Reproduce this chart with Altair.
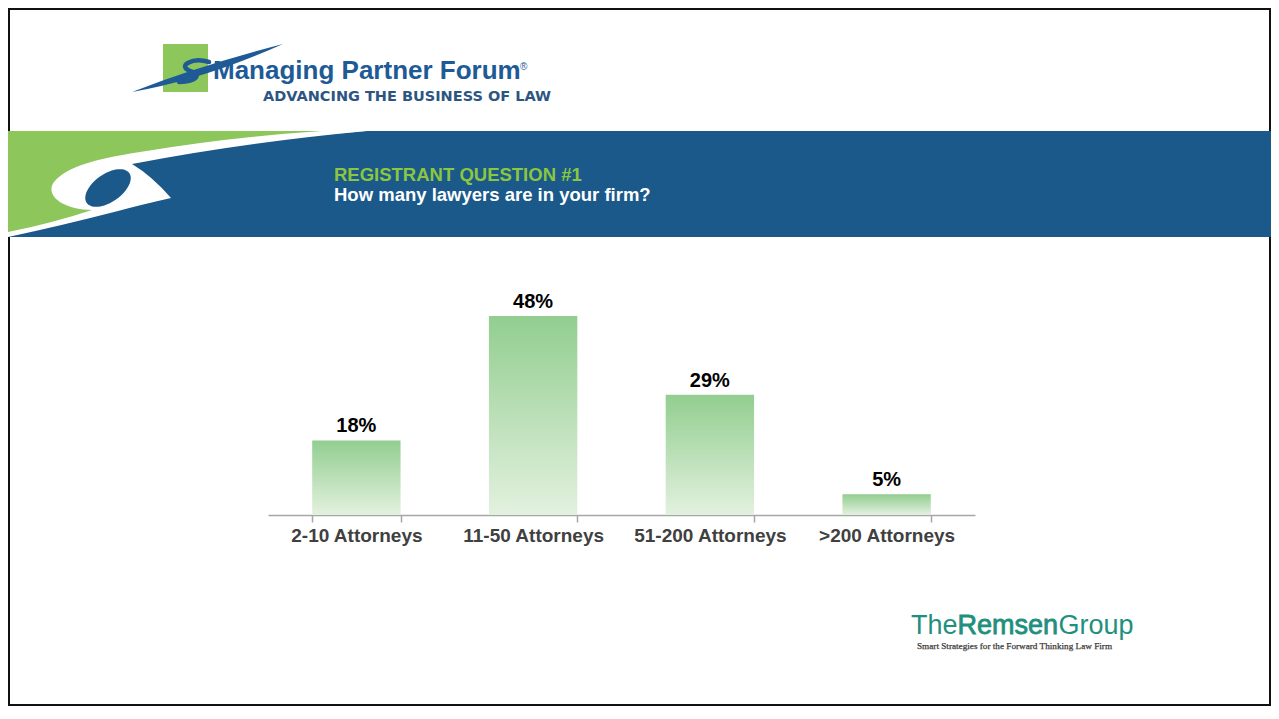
import re
import math
import altair as alt
import pandas as pd

# ---------------- data ----------------
categories = ["2-10 Attorneys", "11-50 Attorneys", "51-200 Attorneys", ">200 Attorneys"]
values = [18, 48, 29, 5]

header_kicker = "REGISTRANT QUESTION #1"
header_question = "How many lawyers are in your firm?"
logo_name = "Managing Partner Forum"
logo_reg = "®"
logo_tagline = "ADVANCING THE BUSINESS OF LAW"
remsen_parts = ["The", "Remsen", "Group"]
remsen_tagline = "Smart Strategies for the Forward Thinking Law Firm"

# ---------------- layout helpers ----------------
OFF = 8          # page margin: reference pixel -> chart pixel
W, H = 1263, 698
ONE = alt.Data(values=[{"k": 0}])

BLUE = "#1a598a"
GREEN = "#8dc65b"
LOGO_BLUE = "#1e5a96"
TEAL = "#1f8f7e"


def path_layer(path, color, filled=True, stroke_width=0):
    tokens = re.findall(r"[A-Za-z]|-?\d+(?:\.\d+)?", path)
    nums = [float(t) for t in tokens if not t.isalpha()]
    xs, ys = nums[0::2], nums[1::2]
    cx = (min(xs) + max(xs)) / 2
    cy = (min(ys) + max(ys)) / 2
    r = max(max(xs) - min(xs), max(ys) - min(ys)) / 2
    out, buf = [], []
    for t in tokens:
        if t.isalpha():
            out.append(t)
        else:
            buf.append(float(t))
            if len(buf) == 2:
                out.append(f"{(buf[0] - cx) / r:.4f},{(buf[1] - cy) / r:.4f}")
                buf = []
    shape = " ".join(out)
    if filled:
        mk = alt.Chart(ONE).mark_point(shape=shape, size=(2 * r) ** 2, filled=True,
                                       fill=color, strokeWidth=0, opacity=1)
    else:
        mk = alt.Chart(ONE).mark_point(shape=shape, size=(2 * r) ** 2, filled=False,
                                       color=color, strokeWidth=stroke_width,
                                       strokeCap="round", opacity=1)
    return mk.encode(x=alt.value(cx - OFF), y=alt.value(cy - OFF))


def ellipse_path(cx, cy, a, b, deg, n=48):
    th = math.radians(deg)
    pts = []
    for i in range(n):
        t = 2 * math.pi * i / n
        x = cx + a * math.cos(t) * math.cos(th) + b * math.sin(t) * math.sin(th)
        y = cy - a * math.cos(t) * math.sin(th) + b * math.sin(t) * math.cos(th)
        pts.append(f"{x:.2f} {y:.2f}")
    return "M " + " L ".join(pts) + " Z"


def text_layer(txt, x, y, size, color, weight="normal", font="Liberation Sans",
               align="left", **kw):
    return alt.Chart(ONE).mark_text(
        text=txt, align=align, baseline="alphabetic", fontSize=size,
        fontWeight=weight, font=font, color=color, **kw
    ).encode(x=alt.value(x - OFF), y=alt.value(y - OFF))


def rect_layer(x1, y1, x2, y2, color):
    return alt.Chart(ONE).mark_rect(color=color).encode(
        x=alt.value(x1 - OFF), x2=alt.value(x2 - OFF),
        y=alt.value(y1 - OFF), y2=alt.value(y2 - OFF))


layers = []

# frame
layers.append(alt.Chart(ONE).mark_rect(filled=False, stroke="#111111", strokeWidth=2).encode(
    x=alt.value(1), x2=alt.value(W - 1), y=alt.value(1), y2=alt.value(H - 1)))

# ---------------- header band ----------------
layers.append(rect_layer(3, 131, 1279, 237, BLUE))
layers.append(path_layer(
    "M 3 131 L 367 131 Q 240 141 130 161 L 110 195 L 100 212 Q 55 224 3 234 Z", GREEN))
layers.append(path_layer(
    "M 367 131 Q 240 143 132 164 Q 152 176 171 198 Q 140 205 118 211 "
    "Q 60 226 8 237 L 3 237 L 3 233 Q 50 224 92 210 C 60 209 45 194 54 182 "
    "C 66 167 95 159 140 152 Q 230 137 322 131 Z", "#ffffff"))
layers.append(path_layer(ellipse_path(108, 188, 26, 14, 35), BLUE))

layers.append(text_layer(header_kicker, 334, 180.5, 18.5, "#8cc63f", weight="bold"))
layers.append(text_layer(header_question, 334, 200.5, 18.5, "#ffffff", weight="bold"))

# ---------------- top-left logo ----------------
layers.append(rect_layer(163, 44, 208, 92, GREEN))
layers.append(path_layer("M 132 92 Q 205 79 283 44 Q 198 66 132 92 Z", LOGO_BLUE))
layers.append(path_layer("M 209 62 C 192 57 177 66 190 71 C 202 75 197 81 179 82",
                         LOGO_BLUE, filled=False, stroke_width=4.5))
layers.append(text_layer(logo_name, 213, 79, 26, LOGO_BLUE, weight="bold"))
layers.append(text_layer(logo_reg, 520, 70, 10, LOGO_BLUE))
layers.append(text_layer(logo_tagline, 263, 101, 14.5, "#2d5582", weight="bold",
                         font="DejaVu Sans"))

# ---------------- Remsen logo ----------------
RSIZE = 27
layers.append(text_layer(remsen_parts[0], 911, 634, RSIZE, TEAL, font="Liberation Sans"))
layers.append(text_layer(remsen_parts[1], 957.5, 634, RSIZE, TEAL, font="Liberation Sans",
                         stroke=TEAL, strokeWidth=0.8))
layers.append(text_layer(remsen_parts[2], 1058.5, 634, RSIZE, TEAL, font="Liberation Sans"))
layers.append(text_layer(remsen_tagline, 917, 649, 9.2, "#3a3a3a", weight="normal",
                         font="Liberation Serif", stroke="#3a3a3a", strokeWidth=0.25))

# ---------------- bar chart ----------------
df = pd.DataFrame({"category": categories, "value": values})
df["label"] = [f"{v}%" for v in values]

AXIS_Y = 515 - OFF
xenc = alt.X(
    "category:N", sort=categories,
    scale=alt.Scale(range=[268 - OFF, 975 - OFF], paddingInner=0.5, paddingOuter=0.25),
    axis=alt.Axis(title=None, labelAngle=0, labelFont="Liberation Sans", labelFontSize=19,
                  labelFontWeight="bold", labelColor="#404040", labelPadding=4,
                  domainColor="#a6a6a6", domainWidth=1.5, tickColor="#a6a6a6",
                  tickWidth=1.5, tickSize=7, tickBand="extent", grid=False,
                  offset=AXIS_Y - H),
)
yenc = alt.Y("value:Q",
             scale=alt.Scale(domain=[0, 48], range=[515 - OFF, 316 - OFF], nice=False),
             axis=None)

grad = alt.Gradient(
    gradient="linear", x1=0, x2=0, y1=0, y2=1,
    stops=[alt.GradientStop(color="#92ce8f", offset=0),
           alt.GradientStop(color="#e3f1df", offset=1)],
)
bars = alt.Chart(df).mark_bar(color=grad).encode(x=xenc, y=yenc)
value_labels = alt.Chart(df).mark_text(
    baseline="alphabetic", dy=-8, fontSize=20, fontWeight="bold",
    font="Liberation Sans", color="#000000"
).encode(x=xenc, y=yenc, text="label:N")

layers += [bars, value_labels]

chart = alt.layer(*layers).properties(
    width=W, height=H, padding=0,
    autosize=alt.AutoSizeParams(type="none"),
).configure_view(stroke=None)

chart.save("out.html", embed_options={"renderer": "svg", "actions": False})
